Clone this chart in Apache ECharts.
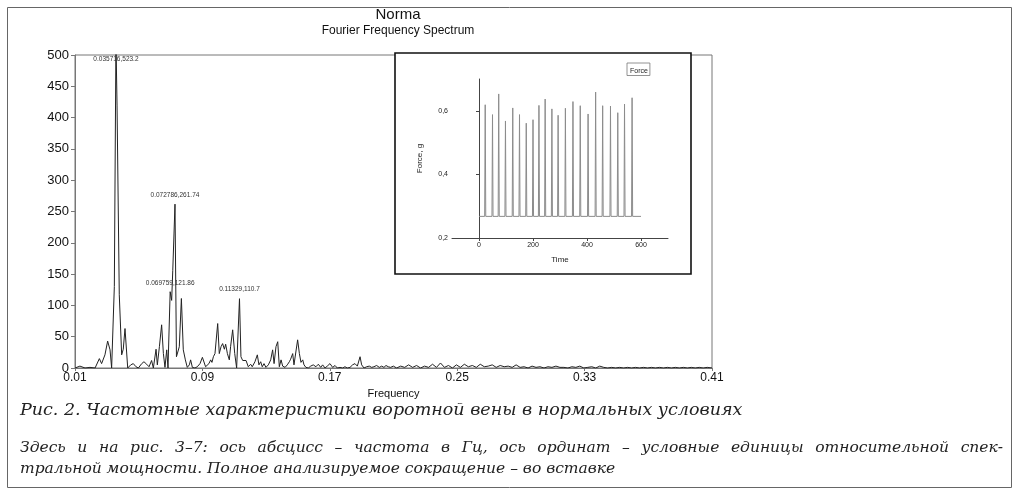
<!DOCTYPE html>
<html>
<head>
<meta charset="utf-8">
<script src="https://cdn.jsdelivr.net/npm/echarts@6.0.0/dist/echarts.min.js"></script>
<style>
  html, body { margin: 0; padding: 0; background: #fff; }
  #chart { width: 1019px; height: 496px; }
</style>
</head>
<body>
<div id="chart"></div>
<script>
// спектр: [частота, мощность]
var spectrum = [
  [0.0100, 0], [0.0131, 3], [0.0163, 0], [0.0194, 1], [0.0226, 0], [0.0253, 15],
  [0.0267, 7], [0.0288, 21], [0.0305, 43], [0.0320, 29], [0.0330, 0], [0.0347, 130],
  [0.035716, 523.2], [0.0364, 420], [0.0378, 117], [0.0393, 21], [0.0403, 30], [0.0414, 63],
  [0.0431, 0], [0.0450, 5], [0.0466, 7], [0.0483, 2], [0.0498, 0], [0.0508, 3],
  [0.0519, 7], [0.0533, 10], [0.0550, 6], [0.0565, 2], [0.0581, 12], [0.0592, 0],
  [0.0609, 30], [0.0617, 5], [0.0630, 34], [0.0644, 69], [0.0655, 23], [0.0665, 1],
  [0.0676, 29], [0.0684, 0], [0.069759, 121.86], [0.0707, 108], [0.0714, 156], [0.072786, 261.74],
  [0.0737, 18], [0.0755, 34], [0.0768, 111], [0.0780, 29], [0.0793, 13], [0.0805, 1],
  [0.0818, 5], [0.0826, 13], [0.0837, 1], [0.0853, 0], [0.0868, 2], [0.0885, 7],
  [0.0900, 17], [0.0910, 14], [0.0920, 2], [0.0931, 0], [0.0941, 7], [0.0952, 13],
  [0.0960, 9], [0.0969, 18], [0.0979, 23], [0.0996, 71], [0.1006, 23], [0.1017, 34],
  [0.1027, 39], [0.1038, 30], [0.1046, 38], [0.1057, 23], [0.1069, 13], [0.1077, 34],
  [0.1090, 61], [0.1103, 23], [0.1115, 0], [0.11329, 110.7], [0.1142, 18], [0.1153, 12],
  [0.1163, 14], [0.1174, 12], [0.1188, 2], [0.1203, 6], [0.1213, 2], [0.1230, 10],
  [0.1245, 21], [0.1255, 5], [0.1266, 10], [0.1276, 2], [0.1287, 7], [0.1299, 1],
  [0.1314, 5], [0.1329, 13], [0.1341, 29], [0.1350, 7], [0.1362, 34], [0.1373, 42],
  [0.1383, 2], [0.1394, 13], [0.1404, 3], [0.1419, 1], [0.1433, 5], [0.1446, 10],
  [0.1454, 14], [0.1467, 23], [0.1475, 5], [0.1498, 45], [0.1509, 23], [0.1519, 9],
  [0.1530, 13], [0.1538, 5], [0.1550, 1], [0.1565, 0], [0.1580, 3], [0.1596, 5],
  [0.1613, 2], [0.1628, 6], [0.1643, 1], [0.1655, 5], [0.1670, 0], [0.1684, 3],
  [0.1701, 7], [0.1718, 1], [0.1733, 4], [0.1747, 0], [0.1764, 1], [0.1781, 0],
  [0.1795, 2], [0.1810, 0], [0.1827, 1], [0.1843, 5], [0.1858, 7], [0.1873, 3],
  [0.1890, 18], [0.1900, 5], [0.1915, 0], [0.1931, 2], [0.1948, 3], [0.1963, 1],
  [0.1977, 2], [0.1994, 4], [0.2011, 1], [0.2026, 3], [0.2040, 1], [0.2053, 4],
  [0.2067, 2], [0.2082, 1], [0.2099, 3], [0.2120, 0],
  [0.2145, 3], [0.2170, 1], [0.2195, 5], [0.2220, 1], [0.2245, 4], [0.2270, 0],
  [0.2295, 3], [0.2320, 1], [0.2345, 6], [0.2370, 1], [0.2395, 8], [0.2420, 1],
  [0.2445, 4], [0.2470, 0], [0.2495, 5], [0.2520, 1], [0.2545, 6], [0.2570, 2],
  [0.2595, 4], [0.2620, 1], [0.2645, 6], [0.2670, 2], [0.2695, 3], [0.2720, 5],
  [0.2745, 1], [0.2770, 4], [0.2795, 2], [0.2820, 3], [0.2845, 1], [0.2870, 5],
  [0.2895, 1], [0.2920, 2], [0.2945, 0], [0.2970, 3], [0.2995, 1], [0.3020, 2],
  [0.3045, 0], [0.3070, 2], [0.3095, 1], [0.3120, 3], [0.3145, 1], [0.3170, 1],
  [0.3195, 0], [0.3220, 2], [0.3245, 1], [0.3270, 3], [0.3295, 0], [0.3320, 1],
  [0.3345, 2], [0.3370, 0], [0.3395, 3], [0.3420, 1], [0.3445, 0], [0.3470, 1],
  [0.3495, 0], [0.3520, 1], [0.3545, 0], [0.3570, 1], [0.3595, 0], [0.3620, 1],
  [0.3645, 0], [0.3670, 1], [0.3695, 0], [0.3720, 1], [0.3745, 0], [0.3770, 1],
  [0.3795, 0], [0.3820, 1], [0.3845, 0], [0.3870, 1], [0.3895, 0], [0.3920, 1],
  [0.3945, 0], [0.3970, 1], [0.3995, 0], [0.4020, 1], [0.4045, 0], [0.4070, 1],
  [0.4100, 0]
];
var freqTicks = [0.01, 0.09, 0.17, 0.25, 0.33, 0.41];

// подписи пиков
var peaks = [
  {f: 0.035716, v: 523.2, label: '0.035716,523.2'},
  {f: 0.072786, v: 261.74, label: '0.072786,261.74'},
  {f: 0.069759, v: 121.86, label: '0.069759,121.86'},
  {f: 0.11329, v: 110.7, label: '0.11329,110.7'}
];

// вставка: сокращения
var spikeTimes = [23, 50, 73, 98, 125, 150, 175, 200, 222, 245, 270, 293, 320, 348, 375, 404, 432, 458, 487, 514, 539, 567];
var spikePeaks = [0.619, 0.588, 0.653, 0.568, 0.609, 0.588, 0.561, 0.572, 0.617, 0.637, 0.606,
                  0.586, 0.608, 0.629, 0.616, 0.590, 0.659, 0.616, 0.615, 0.594, 0.621, 0.641];
var baseline = 0.268;
var timeTicks = [0, 200, 400, 600];
var forceTicks = [0.2, 0.4, 0.6];

var caption1 = 'Рис. 2. Частотные характеристики воротной вены в нормальных условиях';
var caption2 = 'Здесь и на рис. 3–7: ось абсцисс – частота в Гц, ось ординат – условные единицы относительной спек-';
var caption3 = 'тральной мощности. Полное анализируемое сокращение – во вставке';

var forceData = [[0, baseline]];
for (var i = 0; i < spikeTimes.length; i++) {
  forceData.push([spikeTimes[i] - 2, baseline]);
  forceData.push([spikeTimes[i], spikePeaks[i]]);
  forceData.push([spikeTimes[i] + 2, baseline]);
}
forceData.push([600, baseline]);

var peakMarks = peaks.map(function (p) {
  return {
    coord: [p.f, Math.min(p.v, 500)],
    label: {formatter: p.label, offset: p.v > 500 ? [0, 4] : [0, -9]}
  };
});

// строка с выравниванием по ширине (как в журнале)
var capFont = 'italic 15.5px "DejaVu Serif"';
function justifiedLine(text, x0, x1, top) {
  var ctx = document.createElement('canvas').getContext('2d');
  ctx.font = capFont;
  var words = text.split(' ');
  var total = 0;
  words.forEach(function (w) { total += ctx.measureText(w).width; });
  var gap = (x1 - x0 - total) / (words.length - 1);
  var x = x0, out = [];
  words.forEach(function (w) {
    out.push({type: 'text', left: x, top: top, z: 1, style: {text: w, font: capFont, fill: '#222'}});
    x += ctx.measureText(w).width + gap;
  });
  return out;
}

var myChart = echarts.init(document.getElementById('chart'));

var graphics = [
  {type: 'rect', shape: {x: 7.5, y: 7.5, width: 1004, height: 480},
   style: {fill: 'none', stroke: '#666', lineWidth: 1}, z: 0, silent: true},
  {type: 'rect', shape: {x: 395, y: 53, width: 296, height: 221},
   style: {fill: '#fff', stroke: '#111', lineWidth: 1.6}, z: 1, silent: true},
  {type: 'text', left: 20, top: 401, z: 1,
   style: {text: caption1, font: 'italic 17.5px "DejaVu Serif"', fill: '#222'}},
  {type: 'text', left: 20, top: 461, z: 1,
   style: {text: caption3, font: capFont, fill: '#222'}}
].concat(justifiedLine(caption2, 20, 1003, 440));

var option = {
  animation: false,
  title: [
    {text: 'Norma', left: 393, top: 2, textAlign: 'center',
     textStyle: {fontFamily: 'Liberation Sans', fontSize: 15, fontWeight: 'normal', color: '#111'}},
    {text: 'Fourier Frequency Spectrum', left: 393, top: 20, textAlign: 'center',
     textStyle: {fontFamily: 'Liberation Sans', fontSize: 12, fontWeight: 'normal', color: '#111'}}
  ],
  legend: {
    data: ['Force'], left: 627, top: 63, icon: 'none', itemWidth: 0, itemGap: 0,
    padding: [1, 2], borderColor: '#777', borderWidth: 0.8, z: 10,
    textStyle: {fontFamily: 'Liberation Sans', fontSize: 7, color: '#222', padding: [0, 0, 0, -4]}
  },
  grid: [
    {left: 75, right: 307, top: 55, bottom: 128, show: true, borderColor: '#777', borderWidth: 1},
    {left: 452, right: 351, top: 79, bottom: 258}
  ],
  xAxis: [
    {
      type: 'value', gridIndex: 0, min: 0.01, max: 0.41,
      name: 'Frequency', nameLocation: 'middle', nameGap: 17,
      nameTextStyle: {fontFamily: 'Liberation Sans', fontSize: 11, color: '#111'},
      axisLine: {lineStyle: {color: '#777'}},
      axisTick: {customValues: freqTicks, length: 3, lineStyle: {color: '#777'}},
      axisLabel: {customValues: freqTicks, fontFamily: 'Liberation Sans', fontSize: 12, color: '#111', margin: 4,
                  formatter: function (v) { return v.toFixed(2); }},
      splitLine: {show: false}
    },
    {
      type: 'value', gridIndex: 1, min: -100, max: 700, z: 5,
      name: 'Time', nameLocation: 'middle', nameGap: 18,
      nameTextStyle: {fontFamily: 'Liberation Sans', fontSize: 8, color: '#222'},
      axisLine: {lineStyle: {color: '#444'}},
      axisTick: {customValues: timeTicks, length: 3, lineStyle: {color: '#444'}},
      axisLabel: {customValues: timeTicks, fontFamily: 'Liberation Sans', fontSize: 7, color: '#222', margin: 4},
      splitLine: {show: false}
    }
  ],
  yAxis: [
    {
      type: 'value', gridIndex: 0, min: 0, max: 500, interval: 50,
      axisLine: {show: true, lineStyle: {color: '#777'}},
      axisTick: {show: true, length: 4, lineStyle: {color: '#777'}},
      axisLabel: {fontFamily: 'Liberation Sans', fontSize: 13, color: '#111', margin: 6},
      splitLine: {show: false}
    },
    {
      type: 'value', gridIndex: 1, min: 0.2, max: 0.7, z: 5,
      name: 'Force, g', nameLocation: 'middle', nameGap: 28, nameRotate: 90,
      nameTextStyle: {fontFamily: 'Liberation Sans', fontSize: 8, color: '#222'},
      axisLine: {show: true, lineStyle: {color: '#444'}},
      axisTick: {show: true, customValues: forceTicks, length: 3, lineStyle: {color: '#444'}},
      axisLabel: {customValues: forceTicks, fontFamily: 'Liberation Sans', fontSize: 7, color: '#222', margin: 4,
                  formatter: function (v) { return v.toFixed(1).replace('.', ','); }},
      splitLine: {show: false}
    }
  ],
  graphic: graphics,
  series: [
    {
      name: 'Spectrum', type: 'line', xAxisIndex: 0, yAxisIndex: 0,
      data: spectrum, showSymbol: false, symbol: 'none', clip: true, z: 0,
      lineStyle: {color: '#222', width: 1},
      markPoint: {
        symbol: 'circle', symbolSize: 0,
        label: {show: true, position: 'inside', fontFamily: 'Liberation Sans', fontSize: 6.5, color: '#333'},
        data: peakMarks
      }
    },
    {
      name: 'Force', type: 'line', xAxisIndex: 1, yAxisIndex: 1, z: 5,
      data: forceData, showSymbol: false, symbol: 'none',
      lineStyle: {color: '#8c8c8c', width: 1}
    }
  ]
};
myChart.setOption(option);
</script>
</body>
</html>
